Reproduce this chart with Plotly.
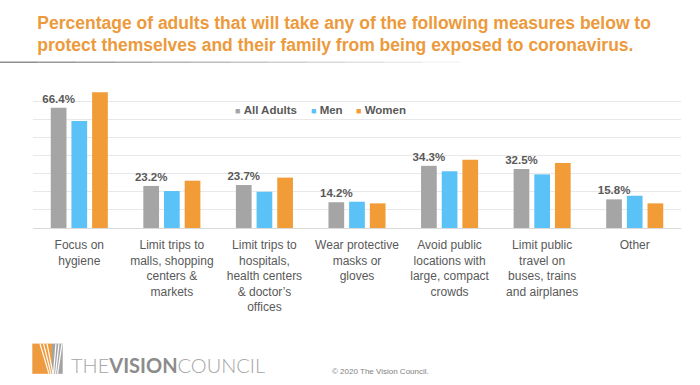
import plotly.graph_objects as go

categories = ["Focus on hygiene", "Limit trips to malls", "Limit trips to hospitals",
              "Wear protective masks", "Avoid public locations", "Limit public travel", "Other"]
tick_labels = ["Focus on<br>hygiene",
               "Limit trips to<br>malls, shopping<br>centers &<br>markets",
               "Limit trips to<br>hospitals,<br>health centers<br>& doctor’s<br>offices",
               "Wear protective<br>masks or<br>gloves",
               "Avoid public<br>locations with<br>large, compact<br>crowds",
               "Limit public<br>travel on<br>buses, trains<br>and airplanes",
               "Other"]
all_adults = [66.4, 23.2, 23.7, 14.2, 34.3, 32.5, 15.8]
men = [59.1, 20.4, 20.0, 14.5, 31.3, 29.6, 17.8]
women = [74.9, 26.1, 27.8, 13.6, 37.7, 35.9, 13.6]
series_names = ["All Adults", "Men", "Women"]
colors = ["#A5A5A5", "#5BC2F7", "#F19C36"]

W, H = 700, 385
L, R, T, B = 33, 681, 82.5, 228

def px(x):
    return (x - L) / (R - L)

def py(y):
    return (B - y) / (B - T)

fig = go.Figure()
for name, vals, col in zip(series_names, [all_adults, men, women], colors):
    fig.add_trace(go.Bar(
        x=categories, y=vals, name=name, marker_color=col, marker_line_width=0,
        text=[f"{v:.1f}%" for v in vals] if name == "All Adults" else None,
        textposition="outside" if name == "All Adults" else "none",
        constraintext="none",
        textfont=dict(family="Liberation Sans, Arial", size=11.5, color="#595959", weight="bold"),
        cliponaxis=False, showlegend=False,
    ))

annotations = []
# legend (compact, like the original)
leg_x = [232.5, 309, 354]
for name, col, lx in zip(series_names, colors, leg_x):
    annotations.append(dict(
        xref="paper", yref="paper", x=px(lx), y=py(109.7), xanchor="left", yanchor="middle",
        text=f"<span style='color:{col};font-size:9px'>■</span> <b>{name}</b>",
        showarrow=False, font=dict(family="Liberation Sans, Arial", size=11.5, color="#595959")))
# footer logo text
annotations.append(dict(
    xref="paper", yref="paper", x=px(69), y=py(365.5), xanchor="left", yanchor="middle",
    text="<span style='color:#A6A6A6'>THE</span><b style='color:#8C8C8C'>VISION</b><span style='color:#A6A6A6'>COUNCIL</span>",
    showarrow=False, font=dict(family="Lato, Liberation Sans", size=20, color="#A6A6A6", weight=300)))
annotations.append(dict(
    xref="paper", yref="paper", x=px(330), y=py(372), xanchor="left", yanchor="middle",
    text="© 2020 The Vision Council.", showarrow=False,
    font=dict(family="Liberation Sans, Arial", size=8, color="#7F7F7F")))

shapes = []
# gradient separator under title
segs = 12
for i in range(segs):
    x0 = i * 460 / segs
    x1 = (i + 1) * 460 / segs
    shapes.append(dict(type="line", xref="paper", yref="paper", x0=px(x0), x1=px(x1),
                       y0=py(61.7), y1=py(61.7),
                       line=dict(color="#8F8F8F", width=1.5), opacity=max(0.05, 1 - i / segs)))
# logo icon
shapes.append(dict(type="rect", xref="paper", yref="paper", x0=px(32.3), x1=px(52), y0=py(374.3), y1=py(344),
                   fillcolor="#EE9A3E", line_width=0))
shapes.append(dict(type="rect", xref="paper", yref="paper", x0=px(52), x1=px(62.7), y0=py(374.3), y1=py(344),
                   fillcolor="#A3A3A3", line_width=0))
for (xa, xb) in [(40, 49), (43.5, 51), (47, 53)]:
    shapes.append(dict(type="line", xref="paper", yref="paper", x0=px(xa), x1=px(xb), y0=py(344), y1=py(374.3),
                       line=dict(color="white", width=1.2)))
for (xa, xb) in [(56, 53.5), (59, 55.5), (62, 57.5)]:
    shapes.append(dict(type="line", xref="paper", yref="paper", x0=px(xa), x1=px(xb), y0=py(344), y1=py(374.3),
                       line=dict(color="white", width=1.2)))

fig.update_layout(
    width=W, height=H,
    margin=dict(l=L, r=W - R, t=T, b=H - B),
    paper_bgcolor="white", plot_bgcolor="white",
    barmode="group", bargap=0.33, bargroupgap=0.24,
    title=dict(
        text="Percentage of adults that will take any of the following measures below to<br>protect themselves and their family from being exposed to coronavirus.",
        xref="container", yref="container", x=37.3 / W, xanchor="left", y=1 - 28.5 / H, yanchor="top",
        font=dict(family="Liberation Sans, Arial", size=17.5, color="#EC9A3C", weight="bold")),
    xaxis=dict(tickvals=categories, ticktext=tick_labels, showgrid=False, zeroline=False,
               showline=False, ticks="", ticklabelstandoff=8,
               tickfont=dict(family="Liberation Sans, Arial", size=12, color="#595959")),
    yaxis=dict(range=[0, 80], dtick=10, showgrid=True, gridcolor="#E8E8E8", gridwidth=1,
               zeroline=True, zerolinecolor="#D9D9D9", zerolinewidth=1,
               showticklabels=False, ticks="", showline=False),
    annotations=annotations, shapes=shapes,
    font=dict(family="Liberation Sans, Arial"),
)

fig.write_html("out.html", config={"displayModeBar": False},
               post_script="document.body.style.margin='0px';document.body.style.overflow='hidden';")
